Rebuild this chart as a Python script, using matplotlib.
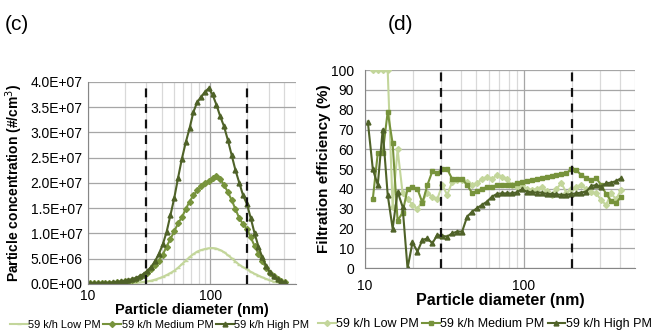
import numpy as np
import matplotlib.pyplot as plt
from matplotlib.ticker import FuncFormatter, LogLocator, NullFormatter, FixedLocator

plt.rcParams['font.family'] = ['Liberation Sans', 'DejaVu Sans']

# particle size bins (nm)
diam = [10.4, 11.18, 12.01, 12.9, 13.87, 14.9, 16.01, 17.21, 18.49, 19.87,
        21.35, 22.95, 24.66, 26.5, 28.48, 30.6, 32.88, 35.34, 37.97, 40.8,
        43.85, 47.12, 50.64, 54.41, 58.47, 62.84, 67.52, 72.56, 77.97, 83.79,
        90.04, 96.76, 103.98, 111.73, 120.07, 129.03, 138.65, 149.0, 160.11, 172.06,
        184.89, 198.69, 213.51, 229.44, 246.55, 264.94, 284.71, 305.95, 328.77, 353.3,
        379.65, 407.97]

# (c) particle concentration, x1e6 #/cm3
conc_low = [0.05, 0.05, 0.06, 0.06, 0.07, 0.08, 0.09, 0.1, 0.11, 0.13,
            0.15, 0.2, 0.25, 0.3, 0.4, 0.5, 0.65, 0.85, 1.1, 1.4,
            1.75, 2.15, 2.6, 3.2, 3.9, 4.6, 5.3, 5.9, 6.4, 6.7,
            6.9, 7.05, 7.1, 7.0, 6.7, 6.3, 5.7, 5.1, 4.4, 3.8,
            3.3, 2.9, 2.4, 2.0, 1.65, 1.3, 1.0, 0.7, 0.45, 0.3,
            0.2, 0.12]
conc_med = [0.1, 0.1, 0.12, 0.15, 0.18, 0.2, 0.25, 0.3, 0.4, 0.5,
            0.65, 0.8, 1.0, 1.3, 1.7, 2.2, 2.9, 3.7, 4.6, 5.8,
            7.4, 8.9, 10.4, 12.0, 13.2, 14.8, 16.3, 17.5, 18.5, 19.3,
            19.9, 20.4, 20.9, 21.4, 20.8, 19.6, 18.2, 16.6, 14.8, 13.0,
            11.8, 10.9, 9.2, 7.5, 6.0, 4.5, 3.2, 2.2, 1.5, 1.0,
            0.6, 0.35]
conc_high = [0.15, 0.15, 0.15, 0.2, 0.2, 0.25, 0.3, 0.4, 0.5, 0.6,
             0.75, 0.95, 1.2, 1.55, 2.0, 2.6, 3.4, 4.5, 6.0, 7.8,
             10.3, 13.6, 17.0, 21.0, 24.8, 28.0, 30.8, 34.0, 36.0, 37.0,
             38.0, 38.7, 37.5, 35.5, 33.2, 31.2, 28.5, 25.5, 22.5, 20.0,
             17.5, 15.8, 13.0, 10.0, 7.4, 5.3, 3.6, 2.3, 1.5, 0.9,
             0.5, 0.3]

# (d) filtration efficiency, %
eff_low = [np.nan, 100, 100, 100, 100, 31, 60, 38, 35, 32,
           30, 34, 38, 36, 35, 42, 37, 43.7, 44.5, 44.5,
           43.7, 42, 43, 45, 46, 45, 47, 46, 45, 42,
           41, 42, 40, 39.5, 40, 41, 39, 37, 40, 43,
           38, 40, 41, 42, 40, 38.6, 37.8, 34.4, 31.9, 37.8,
           34.8, 39.5]
eff_med = [np.nan, 35, 58, 58, 79, 63, 24, 28, 40, 41,
           40, 33, 42, 49, 48, 50, 50, 45, 45, 45,
           42, 38, 39, 40, 41, 41, 42, 42, 42, 42,
           43, 43.5, 44, 44.5, 45, 45.5, 46, 46.5, 47, 47.5,
           48, 50, 49.5, 47, 45.5, 44.5, 45.5, 42, 37.5, 34,
           33, 36]
eff_high = [74, 50, 42, 70, 37, 20, 38.7, 31, 0, 13,
            8.4, 14.3, 15, 12.6, 16.8, 16.3, 16, 17.6, 18.5, 18.5,
            26, 28.5, 30.3, 32, 33.6, 36.1, 37.5, 37.8, 37.8, 37.8,
            38.3, 39.8, 38.7, 38.3, 38.2, 38.2, 37.5, 37.5, 37.3, 37,
            37, 37.5, 37.8, 38.2, 38.7, 41.5, 42, 41.2, 42.9, 43.2,
            44, 45.4]

labels = ['59 k/h Low PM', '59 k/h Medium PM', '59 k/h High PM']
c_low, c_med, c_high = '#c3d69b', '#77933c', '#4f6228'
cut_lo, cut_hi = 30, 200

fig = plt.figure(figsize=(6.52, 3.34), dpi=100)
ax = fig.add_axes([0.135, 0.150, 0.319, 0.605])
ax1 = fig.add_axes([0.560, 0.197, 0.414, 0.593])


def style(a, pad):
    a.set_xscale('log')
    a.set_xlim(10, 500)
    a.xaxis.set_major_locator(FixedLocator([10, 100]))
    a.xaxis.set_major_formatter(FuncFormatter(lambda v, p: f'{v:.0f}'))
    a.xaxis.set_minor_locator(LogLocator(base=10, subs=np.arange(2, 10)))
    a.xaxis.set_minor_formatter(NullFormatter())
    a.grid(axis='y', which='major', color='#a6a6a6', lw=0.9)
    a.grid(axis='x', which='major', color='#a6a6a6', lw=0.9)
    a.grid(axis='x', which='minor', color='#d9d9d9', lw=0.9)
    a.set_axisbelow(True)
    for s in ['top', 'right']:
        a.spines[s].set_visible(False)
    for s in ['left', 'bottom']:
        a.spines[s].set_color('#868686')
    a.tick_params(which='both', length=0, labelsize=10, pad=pad)
    a.axvline(cut_lo, color='#111111', ls=(0, (4, 3)), lw=1.6, zorder=5)
    a.axvline(cut_hi, color='#111111', ls=(0, (4, 3)), lw=1.6, zorder=5)


# (c) concentration
style(ax, 4)
conc_scale = 1e6
ax.plot(diam, np.array(conc_low) * conc_scale, color=c_low, lw=1.5,
        marker='_', ms=3, label=labels[0])
ax.plot(diam, np.array(conc_med) * conc_scale, color=c_med, lw=1.5,
        marker='D', ms=3, label=labels[1])
ax.plot(diam, np.array(conc_high) * conc_scale, color=c_high, lw=1.5,
        marker='^', ms=3.5, label=labels[2])
ax.set_ylim(0, 4e7)
ax.set_yticks(np.arange(0, 4.01e7, 5e6))
ax.yaxis.set_major_formatter(FuncFormatter(lambda v, p: f'{v:.1E}'))
ax.set_xlabel('Particle diameter (nm)', fontsize=10.5, fontweight='bold', labelpad=0)
ax.set_ylabel('Particle concentration (#/cm$^3$)', fontsize=10, fontweight='bold')
ax.legend(loc='center left', bbox_to_anchor=(10 / 652, 1 - 325 / 334),
          bbox_transform=fig.transFigure, ncol=3, frameon=False,
          fontsize=7.9, handlelength=1.6, handletextpad=0.05, columnspacing=0.25,
          borderaxespad=0, borderpad=0)

# (d) filtration efficiency
style(ax1, 8)
ax1.plot(diam, eff_low, color=c_low, lw=1.5, marker='D', ms=3, label=labels[0])
ax1.plot(diam, eff_med, color=c_med, lw=1.5, marker='s', ms=2.5, label=labels[1])
ax1.plot(diam, eff_high, color=c_high, lw=1.5, marker='^', ms=3.5, label=labels[2])
ax1.set_ylim(0, 100)
ax1.set_yticks(np.arange(0, 101, 10))
ax1.set_xlabel('Particle diameter (nm)', fontsize=11.5, fontweight='bold', labelpad=0)
ax1.set_ylabel('Filtration efficiency (%)', fontsize=11, fontweight='bold', labelpad=0)
ax1.legend(loc='center left', bbox_to_anchor=(318 / 652, 1 - 324 / 334),
           bbox_transform=fig.transFigure, ncol=3, frameon=False,
           fontsize=9, handlelength=1.4, handletextpad=0.05, columnspacing=0.25,
           borderaxespad=0, borderpad=0)

fig.text(5 / 652, 1 - 30 / 334, '(c)', fontsize=15)
fig.text(388 / 652, 1 - 30 / 334, '(d)', fontsize=15)

fig.savefig('out.png', dpi=100)
